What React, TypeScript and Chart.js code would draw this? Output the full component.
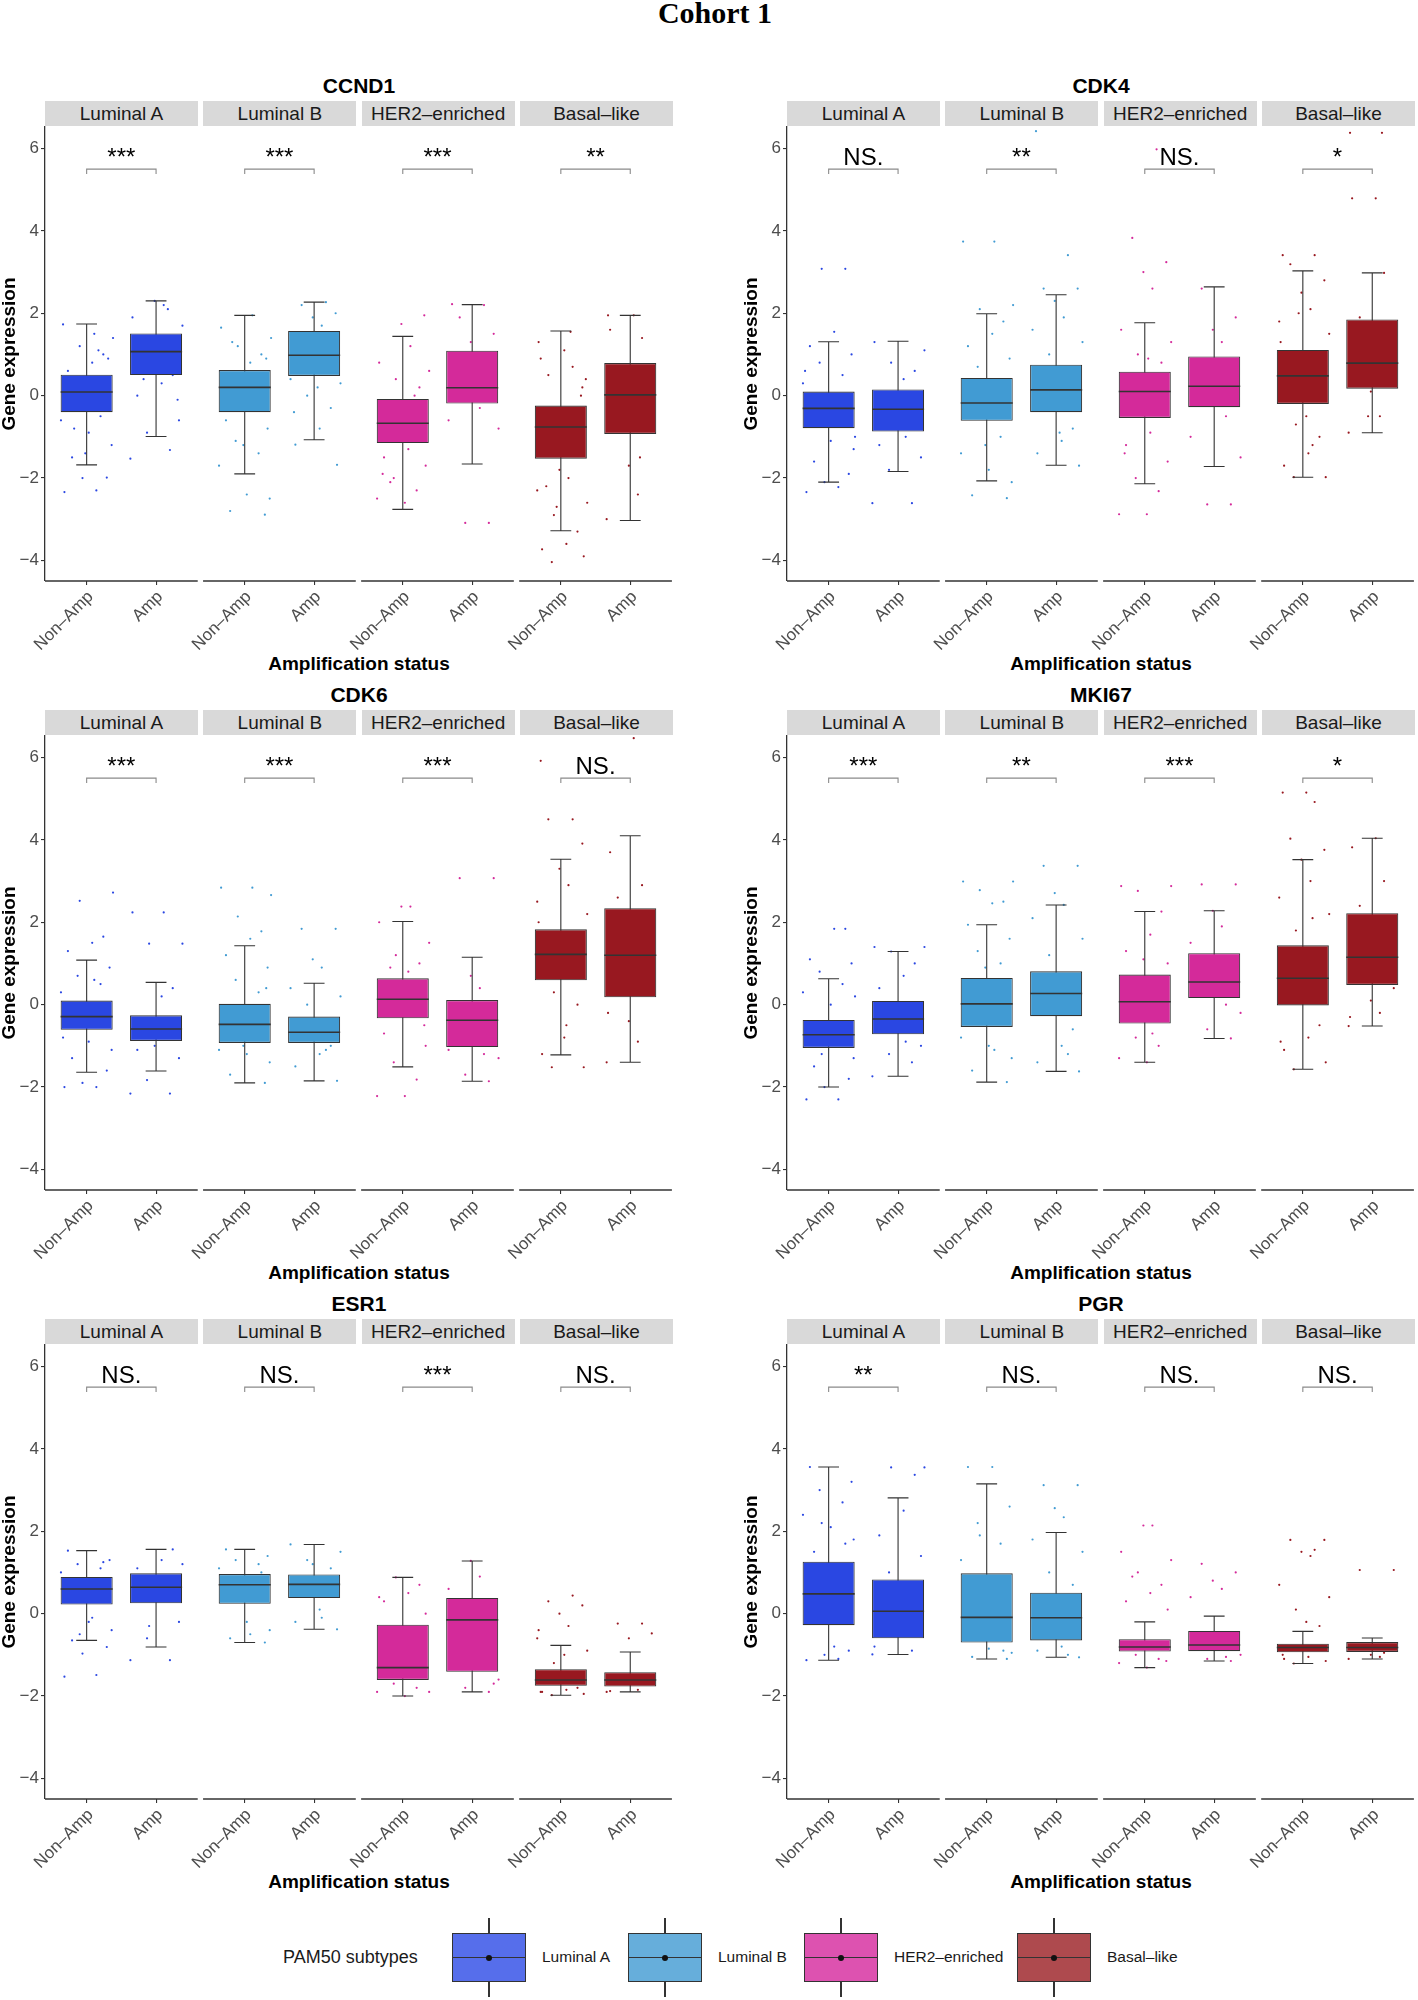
import React, { useEffect, useRef } from 'react';
import { Chart, registerables } from 'chart.js';
Chart.register(...registerables);

// ---------------- data ----------------
const TITLE = 'Cohort 1';
const GENES = ['CCND1', 'CDK4', 'CDK6', 'MKI67', 'ESR1', 'PGR'];
const SUBTYPES = ['Luminal A', 'Luminal B', 'HER2–enriched', 'Basal–like'];
const STATUS = ['Non–Amp', 'Amp'];
const Y_TICKS = [-4, -2, 0, 2, 4, 6];
const X_TITLE = 'Amplification status';
const Y_TITLE = 'Gene expression';
const LEGEND_TITLE = 'PAM50 subtypes';

// [lower whisker, Q1, median, Q3, upper whisker]; order: LumA Non-Amp, LumA Amp, LumB Non-Amp, LumB Amp, HER2 Non-Amp, HER2 Amp, Basal Non-Amp, Basal Amp
const CCND1_BOX = [
  [-1.68, -0.40, 0.09, 0.51, 1.74], [-0.99, 0.50, 1.07, 1.51, 2.30],
  [-1.90, -0.40, 0.20, 0.62, 1.95], [-1.07, 0.48, 0.98, 1.57, 2.27],
  [-2.76, -1.15, -0.67, -0.08, 1.44], [-1.66, -0.19, 0.19, 1.09, 2.21],
  [-3.28, -1.53, -0.76, -0.24, 1.57], [-3.03, -0.93, 0.02, 0.79, 1.95],
];
const CDK4_BOX = [
  [-2.10, -0.79, -0.31, 0.10, 1.31], [-1.84, -0.87, -0.33, 0.15, 1.32],
  [-2.07, -0.61, -0.18, 0.43, 1.99], [-1.69, -0.40, 0.14, 0.75, 2.45],
  [-2.14, -0.54, 0.10, 0.58, 1.77], [-1.72, -0.28, 0.23, 0.95, 2.64],
  [-1.98, -0.20, 0.48, 1.11, 3.03], [-0.90, 0.17, 0.79, 1.85, 2.98],
];
const CDK6_BOX = [
  [-1.64, -0.61, -0.29, 0.10, 1.08], [-1.61, -0.88, -0.59, -0.26, 0.54],
  [-1.90, -0.93, -0.48, 0.02, 1.43], [-1.85, -0.93, -0.67, -0.29, 0.52],
  [-1.51, -0.33, 0.13, 0.64, 2.02], [-1.86, -1.03, -0.38, 0.11, 1.15],
  [-1.22, 0.59, 1.22, 1.83, 3.53], [-1.40, 0.18, 1.20, 2.34, 4.10],
];
const MKI67_BOX = [
  [-2.00, -1.05, -0.73, -0.37, 0.63], [-1.74, -0.72, -0.35, 0.09, 1.29],
  [-1.88, -0.54, 0.02, 0.65, 1.94], [-1.62, -0.28, 0.27, 0.81, 2.42],
  [-1.40, -0.46, 0.07, 0.73, 2.26], [-0.82, 0.16, 0.55, 1.25, 2.28],
  [-1.57, -0.02, 0.64, 1.44, 3.52], [-0.52, 0.48, 1.15, 2.22, 4.04],
];
const ESR1_BOX = [
  [-0.65, 0.22, 0.60, 0.89, 1.53], [-0.81, 0.25, 0.64, 0.98, 1.56],
  [-0.70, 0.24, 0.70, 0.96, 1.56], [-0.38, 0.38, 0.71, 0.95, 1.68],
  [-2.00, -1.61, -1.31, -0.27, 0.88], [-1.90, -1.41, -0.15, 0.38, 1.28],
  [-1.98, -1.75, -1.61, -1.35, -0.77], [-1.90, -1.77, -1.61, -1.42, -0.93],
];
const PGR_BOX = [
  [-1.13, -0.28, 0.48, 1.26, 3.56], [-0.99, -0.60, 0.06, 0.83, 2.81],
  [-1.10, -0.70, -0.09, 0.98, 3.15], [-1.06, -0.65, -0.10, 0.51, 1.97],
  [-1.31, -0.92, -0.81, -0.62, -0.20], [-1.15, -0.91, -0.76, -0.42, -0.06],
  [-1.21, -0.94, -0.82, -0.73, -0.43], [-1.10, -0.93, -0.82, -0.69, -0.59],
];

const CCND1_SIG = ['***', '***', '***', '**'];
const CDK4_SIG = ['NS.', '**', 'NS.', '*'];
const CDK6_SIG = ['***', '***', '***', 'NS.'];
const MKI67_SIG = ['***', '**', '***', '*'];
const ESR1_SIG = ['NS.', 'NS.', '***', 'NS.'];
const PGR_SIG = ['**', 'NS.', 'NS.', 'NS.'];

// visible sample points (approximate readings), same group order as boxes
const CCND1_PTS = [
  [-2.34, -2.3, -2.0, -1.99, -1.5, -1.2, -0.9, -0.6, -0.5, -0.3, 0.3, 0.6, 0.8, 1.0, 1.2, 1.4, 1.73, 1.5, -1.4, 0.9, -0.8, 1.1],
  [-1.53, -1.32, -0.9, -0.6, 0.0, 0.3, 0.5, 1.3, 1.7, 1.9, 2.2, 2.3, -0.1, 0.4, 2.1],
  [-2.89, -2.8, -2.5, -2.4, -1.7, -1.4, -1.1, -0.8, -0.6, 0.8, 1.0, 1.2, 1.4, 1.65, 1.95, -1.2, 0.9, 1.3],
  [-1.68, -1.19, -0.8, -0.3, 0.0, 0.3, 0.4, 1.7, 1.9, 2.0, 2.2, 2.27, -0.4, 0.2],
  [-2.6, -2.5, -2.3, -2.0, -1.7, -1.5, -1.3, 0.2, 0.4, 0.6, 0.8, 1.2, 1.74, 1.95, -2.1, 0.0, -1.9],
  [-3.09, -3.09, -0.8, -0.6, -0.3, 1.3, 1.5, 1.9, 2.2, 2.22, 0.3],
  [-4.04, -3.9, -3.73, -3.6, -3.3, -2.9, -2.6, -2.3, -2.0, -1.8, 0.2, 0.5, 0.7, 0.9, 1.1, 1.3, 1.55, -2.7, 0.0, -2.2, 0.4],
  [-3.0, -2.4, -1.7, -0.8, 0.5, 1.4, 1.6, 1.95, 1.95, -1.5],
];
const CDK4_PTS = [
  [-2.34, -2.22, -2.1, -1.9, -1.6, -1.3, -1.1, 0.3, 0.5, 0.8, 1.0, 1.2, 1.55, 3.08, 3.08, -1.0, 0.6],
  [-2.61, -2.61, -1.8, -1.5, -1.2, 0.4, 0.6, 0.8, 1.1, 1.3, -1.0],
  [-2.49, -2.42, -2.1, -1.8, -1.4, -1.0, 0.7, 0.9, 1.2, 1.5, 1.8, 2.1, 2.2, 3.74, 3.74, -1.2],
  [-1.7, -1.4, -1.1, -0.8, 1.0, 1.3, 1.6, 1.9, 2.3, 2.6, 2.6, 3.41, 6.42, -0.9],
  [-2.88, -2.88, -2.32, -2.0, -1.6, -1.2, -0.9, 0.8, 1.0, 1.3, 1.6, 2.6, 3.0, 3.24, 3.83, 5.98, -1.4, 0.9],
  [-2.64, -2.64, -1.5, -1.0, 1.3, 1.6, 1.9, 2.6, -0.5, 0.7],
  [-1.98, -1.98, -1.7, -1.4, -1.0, -0.7, 1.5, 1.8, 2.1, 2.5, 2.8, 3.19, 3.41, 3.41, -0.5, 1.3, -1.2, 2.0],
  [-0.9, -0.5, 0.1, 0.5, 1.9, 2.98, 4.79, 4.79, 6.38, 6.38, -0.5],
];
const CDK6_PTS = [
  [-2.0, -2.0, -1.9, -1.6, -1.3, -1.1, -0.9, 0.3, 0.5, 0.7, 0.9, 1.3, 1.5, 1.65, 2.52, 2.72, -0.8, 0.6],
  [-2.16, -2.16, -1.83, -1.3, -1.1, 0.2, 0.4, 1.48, 1.48, 2.24, 2.24, -1.0],
  [-1.9, -1.7, -1.4, -1.2, -1.1, 0.3, 0.6, 0.9, 1.2, 1.6, 1.78, 2.14, 2.66, 2.84, 2.84, -1.0, 0.4],
  [-1.85, -1.5, -1.2, -1.0, 0.0, 0.2, 0.4, 0.9, 1.1, 1.84, 1.84, -1.1],
  [-2.22, -2.22, -1.82, -1.4, -1.0, -0.7, 0.8, 1.0, 1.2, 1.5, 2.0, 2.38, 2.38, -0.5, 0.9],
  [-1.86, -1.7, -1.3, -1.1, 0.4, 0.7, 3.07, 3.07, -1.2],
  [-1.52, -1.52, -1.2, -0.5, 0.0, 0.3, 2.2, 2.5, 2.9, 3.3, 3.91, 4.5, 4.5, 5.92, -0.8, 2.0],
  [-1.4, -0.9, -0.4, 0.4, 2.6, 2.9, 3.7, 6.47, -0.2],
];
const MKI67_PTS = [
  [-2.3, -2.3, -2.0, -1.8, -1.5, -1.3, 0.0, 0.3, 0.5, 0.8, 1.0, 1.1, 1.84, 1.84, -1.2, 0.2],
  [-1.74, -1.4, -1.2, -1.0, 0.4, 0.7, 1.0, 1.29, 1.4, 1.4, -0.9],
  [-1.88, -1.6, -1.3, -1.0, -0.8, 1.0, 1.3, 1.6, 1.94, 2.46, 2.5, 2.78, 2.99, 2.99, -1.1, 0.9],
  [-1.62, -1.4, -1.0, -0.6, 1.2, 1.6, 2.1, 2.42, 2.71, 3.37, 3.37, -1.2],
  [-1.4, -1.3, -1.0, -0.8, 1.0, 1.3, 1.7, 2.26, 2.76, 2.88, 2.88, -0.7, 1.1],
  [-0.82, -0.6, -0.2, 1.5, 1.9, 2.28, 2.92, 2.92, 0.0],
  [-1.57, -1.4, -1.1, -0.8, -0.5, 1.8, 2.2, 2.6, 3.0, 3.52, 3.76, 4.03, 4.92, 5.15, 5.15, -0.9, 2.1],
  [-0.52, -0.2, 0.1, 0.4, 2.4, 3.0, 3.82, 4.04, -0.3],
];
const ESR1_PTS = [
  [-1.53, -1.49, -0.97, -0.81, -0.65, -0.4, -0.2, 1.0, 1.1, 1.2, 1.3, 1.53, -0.1, 1.25, -0.5],
  [-1.13, -1.13, -0.6, -0.2, 1.1, 1.3, 1.56, -0.3, 1.2],
  [-0.7, -0.6, -0.4, -0.2, 1.1, 1.2, 1.3, 1.4, 1.56, -0.5, 1.0],
  [-0.38, -0.2, 0.1, 1.1, 1.3, 1.5, 1.68, -0.1, 1.2],
  [-2.0, -1.9, -1.8, -1.7, 0.0, 0.3, 0.5, 0.7, 0.88, -1.9, 0.4],
  [-1.9, -1.8, -1.6, 0.6, 0.9, 1.28, -1.7],
  [-1.98, -1.95, -1.9, -1.85, -1.8, -1.2, -0.9, -0.6, -0.3, 0.0, 0.2, 0.3, 0.44, -1.9, -1.0, -0.4],
  [-1.9, -1.85, -0.6, -0.48, -0.24, -0.24, -1.88],
];
const PGR_PTS = [
  [-1.13, -1.1, -1.0, -0.9, 1.5, 1.8, 2.1, 2.4, 2.7, 3.0, 3.2, 3.56, -0.8, 1.7, 2.2],
  [-0.99, -0.9, 1.0, 1.4, 1.9, 2.5, 3.37, 3.55, 3.55, -0.8],
  [-1.1, -1.05, -0.95, -0.85, 1.3, 1.7, 2.2, 2.6, 3.56, 3.56, -0.9, 1.9],
  [-1.06, -0.9, -0.8, 0.7, 1.0, 1.5, 1.8, 2.34, 2.56, 3.12, 3.12, -1.0],
  [-1.31, -1.2, -1.1, -1.0, 0.1, 0.3, 0.5, 0.7, 1.0, 1.3, 1.5, 2.14, 2.14, -1.15, 0.9],
  [-1.15, -1.1, -1.0, 0.4, 0.6, 0.8, 1.0, 1.21, -1.05],
  [-1.21, -1.15, -1.1, -1.05, -0.3, 0.1, 0.4, 0.7, 1.4, 1.5, 1.79, 1.79, 1.55, -1.0, -0.2],
  [-1.1, -1.05, -1.0, 1.06, 1.06, -0.95],
];

const BOXES = [CCND1_BOX, CDK4_BOX, CDK6_BOX, MKI67_BOX, ESR1_BOX, PGR_BOX];
const SIGS = [CCND1_SIG, CDK4_SIG, CDK6_SIG, MKI67_SIG, ESR1_SIG, PGR_SIG];
const POINTS = [CCND1_PTS, CDK4_PTS, CDK6_PTS, MKI67_PTS, ESR1_PTS, PGR_PTS];

// ---------------- styles / layout ----------------
const COLORS = ['#2A47E2', '#419BD3', '#D42A9A', '#981820'];
const LEGEND_COLORS = ['#566EEB', '#66AEDB', '#DD52B0', '#AE4A4E'];
const JITTER = [-0.32, 0.14, -0.06, 0.29, -0.21, 0.36, 0.03, -0.37, 0.2, -0.13, 0.33, -0.27, 0.08, 0.24, -0.1, 0.38, -0.34, 0.11, -0.02, 0.31, -0.18, 0.17, -0.29, 0.05];
const SANS = '"Liberation Sans", Arial, Helvetica, sans-serif';
const SERIF = '"Liberation Serif", "Times New Roman", serif';

const FW = 2.2; // facet width in x units
const FG = 0.077; // gap between facets in x units
const X_MAX = 4 * FW + 3 * FG;
const Y_MIN = -4.5;
const Y_MAX = 6.52;
const PLOT_TOP0 = 126;
const ROW_STEP = 609;
const AXIS_X = [45, 787];
const Y_AXIS_W = 45;
const PLOT_W = 628;
const PLOT_H = 455;
const X_AXIS_H = 80;
const PX_PER_UNIT = PLOT_W / X_MAX;

const groupPos = (k: number) => Math.floor(k / 2) * (FW + FG) + 0.6 + (k % 2);
const fmtTick = (v: number) => (v < 0 ? '\u2212' + Math.abs(v) : String(v));

function GeneChart({ gi }: { gi: number }) {
  const ref = useRef<HTMLCanvasElement | null>(null);
  const col = gi % 2;
  const row = Math.floor(gi / 2);
  const top = PLOT_TOP0 + row * ROW_STEP;
  const left = AXIS_X[col] - Y_AXIS_W;
  const cw = Y_AXIS_W + PLOT_W;
  const ch = PLOT_H + X_AXIS_H;

  useEffect(() => {
    const canvas = ref.current;
    if (!canvas) return;
    const box = BOXES[gi];
    const sig = SIGS[gi];
    const pts = POINTS[gi];

    const scatterSets = SUBTYPES.map((_, f) => ({
      type: 'scatter',
      data: [0, 1].flatMap((s) =>
        pts[f * 2 + s].map((y, i) => ({
          x: groupPos(f * 2 + s) + JITTER[(i + s * 7 + f * 3) % JITTER.length],
          y,
        }))
      ),
      backgroundColor: COLORS[f],
      borderWidth: 0,
      pointRadius: 1.1,
      pointHoverRadius: 1.1,
      order: 3,
    }));

    const barSet = {
      type: 'bar',
      data: box.map((b, k) => ({ x: groupPos(k), y: [b[1], b[3]] })),
      backgroundColor: box.map((_, k) => COLORS[Math.floor(k / 2)]),
      borderColor: '#333333',
      borderWidth: 1.1,
      borderSkipped: false,
      barPercentage: 0.75,
      categoryPercentage: 1,
      order: 1,
    };

    const boxPlugin = {
      id: 'boxExtras',
      beforeDatasetDraw(chart: any, args: any) {
        if (args.meta.type !== 'bar') return;
        const { ctx } = chart;
        const xs = chart.scales.x;
        const ys = chart.scales.y;
        ctx.save();
        ctx.strokeStyle = '#333333';
        ctx.lineWidth = 1.1;
        box.forEach((b, k) => {
          const p = groupPos(k);
          const cx = xs.getPixelForValue(p);
          const l = xs.getPixelForValue(p - 0.15);
          const r = xs.getPixelForValue(p + 0.15);
          const yLo = ys.getPixelForValue(b[0]);
          const yHi = ys.getPixelForValue(b[4]);
          ctx.beginPath();
          ctx.moveTo(cx, yLo);
          ctx.lineTo(cx, yHi);
          ctx.moveTo(l, yLo);
          ctx.lineTo(r, yLo);
          ctx.moveTo(l, yHi);
          ctx.lineTo(r, yHi);
          ctx.stroke();
        });
        ctx.restore();
      },
      afterDatasetsDraw(chart: any) {
        const { ctx, chartArea } = chart;
        const xs = chart.scales.x;
        const ys = chart.scales.y;
        ctx.save();
        // medians
        ctx.strokeStyle = '#333333';
        ctx.lineWidth = 1.6;
        box.forEach((b, k) => {
          const p = groupPos(k);
          const ym = ys.getPixelForValue(b[2]);
          ctx.beginPath();
          ctx.moveTo(xs.getPixelForValue(p - 0.375), ym);
          ctx.lineTo(xs.getPixelForValue(p + 0.375), ym);
          ctx.stroke();
        });
        // significance brackets
        sig.forEach((label, f) => {
          const x0 = xs.getPixelForValue(groupPos(f * 2));
          const x1 = xs.getPixelForValue(groupPos(f * 2 + 1));
          const yb = ys.getPixelForValue(5.5);
          const ye = ys.getPixelForValue(5.38);
          ctx.strokeStyle = '#8A8A8A';
          ctx.lineWidth = 1.1;
          ctx.beginPath();
          ctx.moveTo(x0, ye);
          ctx.lineTo(x0, yb);
          ctx.lineTo(x1, yb);
          ctx.lineTo(x1, ye);
          ctx.stroke();
          ctx.fillStyle = '#000000';
          ctx.font = '24px ' + SANS;
          ctx.textAlign = 'center';
          ctx.textBaseline = 'alphabetic';
          ctx.fillText(label, (x0 + x1) / 2, ys.getPixelForValue(5.59));
        });
        // per-facet x axis lines
        ctx.strokeStyle = '#333333';
        ctx.lineWidth = 1.3;
        for (let f = 0; f < 4; f++) {
          const a = xs.getPixelForValue(f * (FW + FG));
          const b = xs.getPixelForValue(f * (FW + FG) + FW);
          ctx.beginPath();
          ctx.moveTo(a, chartArea.bottom);
          ctx.lineTo(b, chartArea.bottom);
          ctx.stroke();
        }
        ctx.restore();
      },
    };

    const chart = new Chart(canvas, {
      type: 'bar',
      data: { datasets: [...scatterSets, barSet] as any },
      options: {
        animation: false,
        responsive: false,
        maintainAspectRatio: false,
        devicePixelRatio: 1,
        events: [],
        layout: { padding: 0 },
        plugins: { legend: { display: false }, tooltip: { enabled: false }, title: { display: false } },
        scales: {
          x: {
            type: 'linear',
            min: 0,
            max: X_MAX,
            offset: false,
            afterBuildTicks: (s: any) => {
              s.ticks = [0, 1, 2, 3, 4, 5, 6, 7].map((k) => ({ value: groupPos(k) }));
            },
            afterFit: (s: any) => {
              s.height = X_AXIS_H;
              s.paddingLeft = 0;
              s.paddingRight = 0;
            },
            ticks: {
              autoSkip: false,
              minRotation: 45,
              maxRotation: 45,
              padding: 2,
              labelOffset: 4,
              color: '#4D4D4D',
              font: { size: 17, family: SANS },
              callback: (_v: any, i: number) => STATUS[i % 2],
            },
            grid: { display: true, drawOnChartArea: false, drawTicks: true, tickLength: 4, color: '#333333', lineWidth: 1.1, offset: false },
            border: { display: false },
          },
          y: {
            type: 'linear',
            min: Y_MIN,
            max: Y_MAX,
            afterBuildTicks: (s: any) => {
              s.ticks = Y_TICKS.map((v) => ({ value: v }));
            },
            afterFit: (s: any) => {
              s.width = Y_AXIS_W;
              s.paddingTop = 0;
              s.paddingBottom = 0;
            },
            ticks: {
              padding: 2,
              color: '#4D4D4D',
              font: { size: 17, family: SANS },
              callback: (v: any) => fmtTick(Number(v)),
            },
            grid: { display: true, drawOnChartArea: false, drawTicks: true, tickLength: 4, color: '#333333', lineWidth: 1.1 },
            border: { display: true, color: '#333333', width: 1.3 },
            title: {
              display: true,
              text: Y_TITLE,
              color: '#000000',
              padding: 0,
              font: { size: 19, weight: 'bold', family: SANS, lineHeight: 1 },
            },
          },
        },
      } as any,
      plugins: [boxPlugin],
    });
    return () => chart.destroy();
  }, [gi]);

  return (
    <canvas
      ref={ref}
      width={cw}
      height={ch}
      style={{ position: 'absolute', left, top, width: cw, height: ch, display: 'block' }}
    />
  );
}

function GeneDecor({ gi }: { gi: number }) {
  const col = gi % 2;
  const row = Math.floor(gi / 2);
  const top = PLOT_TOP0 + row * ROW_STEP;
  const ax = AXIS_X[col];
  const facetPx = FW * PX_PER_UNIT;
  const stepPx = (FW + FG) * PX_PER_UNIT;
  return (
    <>
      <div
        style={{
          position: 'absolute', left: ax, width: PLOT_W, top: top - 52, height: 24, lineHeight: '24px',
          textAlign: 'center', font: 'bold 21px ' + SANS, color: '#000',
        }}
      >
        {GENES[gi]}
      </div>
      {SUBTYPES.map((s, f) => (
        <div
          key={s}
          style={{
            position: 'absolute', left: ax + f * stepPx, width: facetPx, top: top - 25, height: 25,
            background: '#D9D9D9', color: '#1A1A1A', font: '19px ' + SANS, lineHeight: '25px', textAlign: 'center',
          }}
        >
          {s}
        </div>
      ))}
      <div
        style={{
          position: 'absolute', left: ax, width: PLOT_W, top: top + 538 - 11, height: 22, lineHeight: '22px',
          textAlign: 'center', font: 'bold 19px ' + SANS, color: '#000',
        }}
      >
        {X_TITLE}
      </div>
    </>
  );
}

function Legend() {
  const keyLefts = [452, 628, 804, 1017];
  const boxTop = 1933;
  const boxH = 49;
  const keyW = 74;
  const mid = boxTop + boxH / 2;
  return (
    <>
      <div style={{ position: 'absolute', left: 283, top: mid - 11, height: 22, lineHeight: '22px', font: '18px ' + SANS, color: '#1A1A1A', whiteSpace: 'nowrap' }}>
        {LEGEND_TITLE}
      </div>
      {SUBTYPES.map((s, i) => {
        const x = keyLefts[i];
        return (
          <React.Fragment key={s}>
            <div style={{ position: 'absolute', left: x + keyW / 2 - 0.6, top: 1918, width: 1.2, height: boxTop - 1918, background: '#333' }} />
            <div style={{ position: 'absolute', left: x + keyW / 2 - 0.6, top: boxTop + boxH, width: 1.2, height: 1997 - boxTop - boxH, background: '#333' }} />
            <div
              style={{
                position: 'absolute', left: x, top: boxTop, width: keyW, height: boxH, boxSizing: 'border-box',
                background: LEGEND_COLORS[i], border: '1.5px solid #333',
              }}
            />
            <div style={{ position: 'absolute', left: x, top: mid - 0.8, width: keyW, height: 1.6, background: '#333' }} />
            <div style={{ position: 'absolute', left: x + keyW / 2 - 3, top: mid - 3, width: 6, height: 6, borderRadius: 3, background: '#111' }} />
            <div style={{ position: 'absolute', left: x + keyW + 16, top: mid - 10, height: 20, lineHeight: '20px', font: '15.5px ' + SANS, color: '#1A1A1A', whiteSpace: 'nowrap' }}>
              {s}
            </div>
          </React.Fragment>
        );
      })}
    </>
  );
}

export default function App() {
  return (
    <div style={{ position: 'absolute', left: 0, top: 0, width: 1418, height: 2000, background: '#fff', overflow: 'hidden' }}>
      <div style={{ position: 'absolute', left: 0, width: 1430, top: -4, height: 30, lineHeight: '30px', textAlign: 'center', font: 'bold 30px ' + SERIF, color: '#000' }}>
        {TITLE}
      </div>
      {GENES.map((g, gi) => (
        <React.Fragment key={g}>
          <GeneDecor gi={gi} />
          <GeneChart gi={gi} />
        </React.Fragment>
      ))}
      <Legend />
    </div>
  );
}
